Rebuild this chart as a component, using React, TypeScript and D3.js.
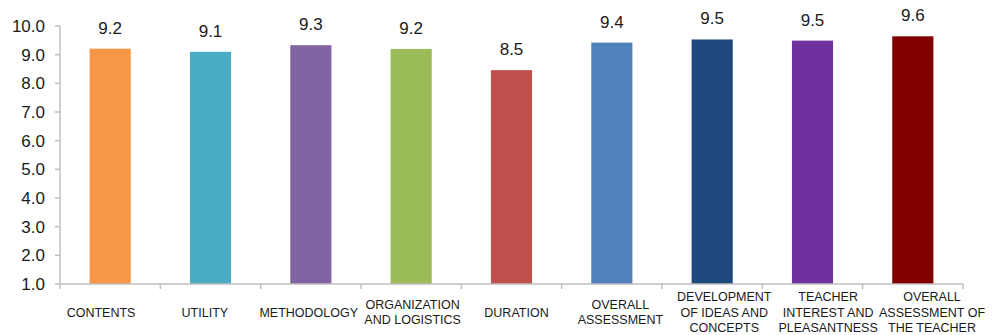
import React, { useEffect, useRef } from 'react';
import * as d3 from 'd3';

const categories = [
  'CONTENTS',
  'UTILITY',
  'METHODOLOGY',
  'ORGANIZATION\nAND LOGISTICS',
  'DURATION',
  'OVERALL\nASSESSMENT',
  'DEVELOPMENT\nOF IDEAS AND\nCONCEPTS',
  'TEACHER\nINTEREST AND\nPLEASANTNESS',
  'OVERALL\nASSESSMENT OF\nTHE TEACHER',
];
const values = [9.21, 9.1, 9.33, 9.2, 8.46, 9.42, 9.53, 9.49, 9.64];
const colors = ['#F79646', '#4BACC6', '#8064A2', '#9BBB59', '#C0504D', '#4F81BD', '#1F497D', '#7030A0', '#800000'];
const yTicks = [1, 2, 3, 4, 5, 6, 7, 8, 9, 10];

const App = () => {
  const svgRef = useRef<SVGSVGElement>(null);

  useEffect(() => {
    const svg = d3.select(svgRef.current);
    svg.selectAll('*').remove();

    const left = 60, right = 963, top = 26, bottom = 284;
    const font = '"Liberation Sans", Arial, Helvetica, sans-serif';
    const axisColor = '#bfbfbf';

    const x = d3.scaleBand<number>()
      .domain(d3.range(categories.length))
      .range([left, right])
      .paddingInner(0.59)
      .paddingOuter(0.295);

    // category labels are spread a little wider than the bars
    const xLabel = d3.scalePoint<number>()
      .domain(d3.range(categories.length))
      .range([101, 932]);

    const y = d3.scaleLinear().domain([1, 10]).range([bottom, top]);

    // y axis
    const gy = svg.append('g');
    gy.append('line')
      .attr('x1', left).attr('x2', left)
      .attr('y1', y(10)).attr('y2', y(1))
      .attr('stroke', axisColor).attr('stroke-width', 1.5);
    gy.selectAll('.yt')
      .data(yTicks)
      .enter()
      .append('line')
      .attr('x1', left - 5).attr('x2', left)
      .attr('y1', d => y(d)).attr('y2', d => y(d))
      .attr('stroke', axisColor).attr('stroke-width', 1.5);
    gy.selectAll('.yl')
      .data(yTicks)
      .enter()
      .append('text')
      .attr('x', left - 15)
      .attr('y', d => y(d))
      .attr('dy', '0.36em')
      .attr('text-anchor', 'end')
      .style('font-family', font)
      .style('font-size', '17px')
      .style('fill', '#1a1a1a')
      .text(d => d.toFixed(1));

    // bars
    svg.selectAll('.bar')
      .data(values)
      .enter()
      .append('rect')
      .attr('x', (d, i) => x(i)!)
      .attr('width', x.bandwidth())
      .attr('y', d => y(d))
      .attr('height', d => y(1) - y(d))
      .attr('fill', (d, i) => colors[i]);

    // value labels
    svg.selectAll('.val')
      .data(values)
      .enter()
      .append('text')
      .attr('x', (d, i) => x(i)! + x.bandwidth() / 2)
      .attr('y', d => y(d) - 15)
      .attr('text-anchor', 'middle')
      .style('font-family', font)
      .style('font-size', '17px')
      .style('fill', '#1a1a1a')
      .text(d => d.toFixed(1));

    // x axis
    const step = x.step();
    const gx = svg.append('g');
    gx.append('line')
      .attr('x1', left).attr('x2', right)
      .attr('y1', bottom).attr('y2', bottom)
      .attr('stroke', axisColor).attr('stroke-width', 1.5);
    gx.selectAll('.xt')
      .data(d3.range(categories.length + 1))
      .enter()
      .append('line')
      .attr('x1', d => left + d * step).attr('x2', d => left + d * step)
      .attr('y1', bottom).attr('y2', bottom + 5)
      .attr('stroke', axisColor).attr('stroke-width', 1.5);

    const labels = gx.selectAll('.xl')
      .data(categories)
      .enter()
      .append('text')
      .attr('text-anchor', 'middle')
      .style('font-family', font)
      .style('font-size', '12.5px')
      .style('fill', '#1a1a1a');
    labels.each(function (d, i) {
      const lines = d.split('\n');
      const cx = xLabel(i)!;
      const lineH = 15.5;
      const startY = 312 - ((lines.length - 1) * lineH) / 2;
      d3.select(this)
        .selectAll('tspan')
        .data(lines)
        .enter()
        .append('tspan')
        .attr('x', cx)
        .attr('y', (l, j) => startY + j * lineH)
        .attr('dy', '0.36em')
        .text(l => l);
    });
  }, []);

  return (
    <svg
      ref={svgRef}
      width={994}
      height={335}
      style={{ position: 'absolute', left: 0, top: 0, background: '#fff' }}
    />
  );
};

export default App;
